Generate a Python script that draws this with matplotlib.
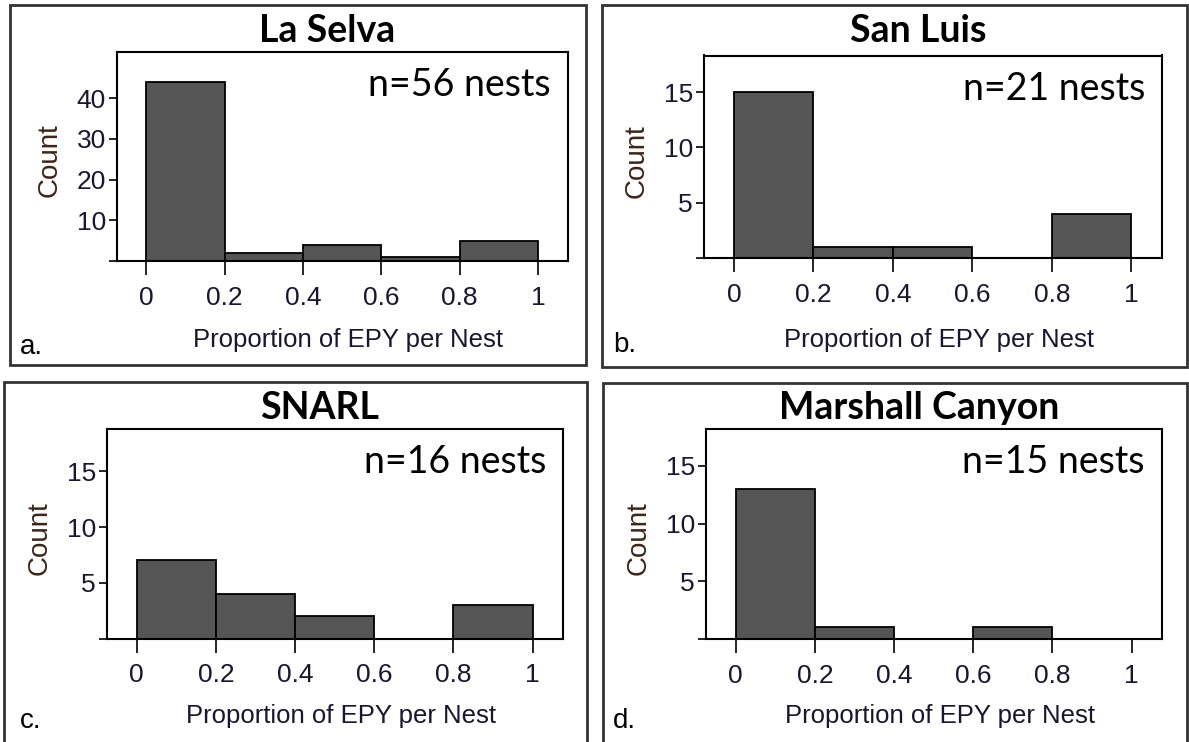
#!/usr/bin/env python3
import matplotlib
matplotlib.use("Agg")
import matplotlib.pyplot as plt
from matplotlib.patches import Rectangle

W, H = 1189, 742

# data
bin_edges = [0.0, 0.2, 0.4, 0.6, 0.8, 1.0]
sites = ["La Selva", "San Luis", "SNARL", "Marshall Canyon"]
letters = ["a.", "b.", "c.", "d."]
n_nests = [56, 21, 16, 15]
la_selva = [44, 2, 4, 1, 5]
san_luis = [15, 1, 1, 0, 4]
snarl = [7, 4, 2, 0, 3]
marshall_canyon = [13, 1, 0, 1, 0]
yticks_a = [0, 10, 20, 30, 40]
yticks_bcd = [0, 5, 10, 15]
xticks = [0, 0.2, 0.4, 0.6, 0.8, 1.0]
xtick_labels = ["0", "0.2", "0.4", "0.6", "0.8", "1"]
xlabel = "Proportion of EPY per Nest"
ylabel = "Count"

# layout in pixels: outer box / axes frame as (left, top, right, bottom)
BOXES = [(10, 5, 586, 365), (602, 5, 1187, 367), (4, 382, 587, 746), (603, 383, 1187, 746)]
FRAMES = [(117, 52, 568, 261), (704, 55.5, 1162, 258), (107, 429, 563, 638.5), (706, 429, 1162, 639)]
YMAX = [51.3, 18.3, 18.8, 18.2]
TITLE_Y = [42, 42, 419, 419]
XLAB_Y = [347, 347, 723, 723]
LETTER_XY = [(19.5, 354), (613, 352), (20, 728), (613, 728)]

TICK_COLOR = "#1a1530"
YLAB_COLOR = "#3d2418"


def fx(x):
    return x / W


def fy(y):
    return 1 - y / H


def main() -> int:
    plt.rcParams["font.family"] = ["Liberation Sans", "DejaVu Sans"]
    fig = plt.figure(figsize=(W / 100, H / 100), dpi=100)

    counts_all = [la_selva, san_luis, snarl, marshall_canyon]
    widths = [b - a for a, b in zip(bin_edges[:-1], bin_edges[1:])]

    for i, counts in enumerate(counts_all):
        bl, bt, br, bb = BOXES[i]
        fig.patches.append(Rectangle((fx(bl), fy(bb)), (br - bl) / W, (bb - bt) / H,
                                     transform=fig.transFigure, fill=False,
                                     lw=2.0, edgecolor="#333333"))

        l, t, r, b = FRAMES[i]
        ax = fig.add_axes([fx(l), fy(b), (r - l) / W, (b - t) / H])
        ax.bar(bin_edges[:-1], counts, width=widths, align="edge",
               color="#555555", edgecolor="black", linewidth=1.3)
        ax.set_xlim(-0.075, 1.077)
        ax.set_ylim(0, YMAX[i])

        yt = yticks_a if i == 0 else yticks_bcd
        ax.set_yticks(yt, [""] + [str(v) for v in yt[1:]])
        ax.set_xticks(xticks, xtick_labels)
        ax.tick_params(axis="x", length=10, width=1.2, pad=8, labelsize=19,
                       labelcolor=TICK_COLOR)
        ax.tick_params(axis="y", length=6, width=1.2, pad=2, labelsize=19,
                       labelcolor=TICK_COLOR)
        for sp in ax.spines.values():
            sp.set_linewidth(1.5)

        cx = (l + r) / 2
        fig.text(fx(cx - 15), fy(TITLE_Y[i]), sites[i], family=["Lato", "DejaVu Sans"],
                 fontweight="bold", fontsize=27, ha="center", va="baseline")
        fig.text(fx(r - 17), fy(t + 44), f"n={n_nests[i]} nests",
                 family=["Lato", "DejaVu Sans"], fontsize=27, ha="right", va="baseline")
        fig.text(fx(cx + 6), fy(XLAB_Y[i]), xlabel, fontsize=18.5, color=TICK_COLOR,
                 ha="center", va="baseline")
        fig.text(fx(l - 67), fy((t + b) / 2 + 4), ylabel, fontsize=20, color=YLAB_COLOR,
                 rotation=90, ha="center", va="center")
        lx, ly = LETTER_XY[i]
        fig.text(fx(lx), fy(ly), letters[i], fontsize=20, ha="left", va="baseline")

    fig.savefig("out.png", dpi=100)
    plt.close(fig)
    return 0


if __name__ == "__main__":
    raise SystemExit(main())
